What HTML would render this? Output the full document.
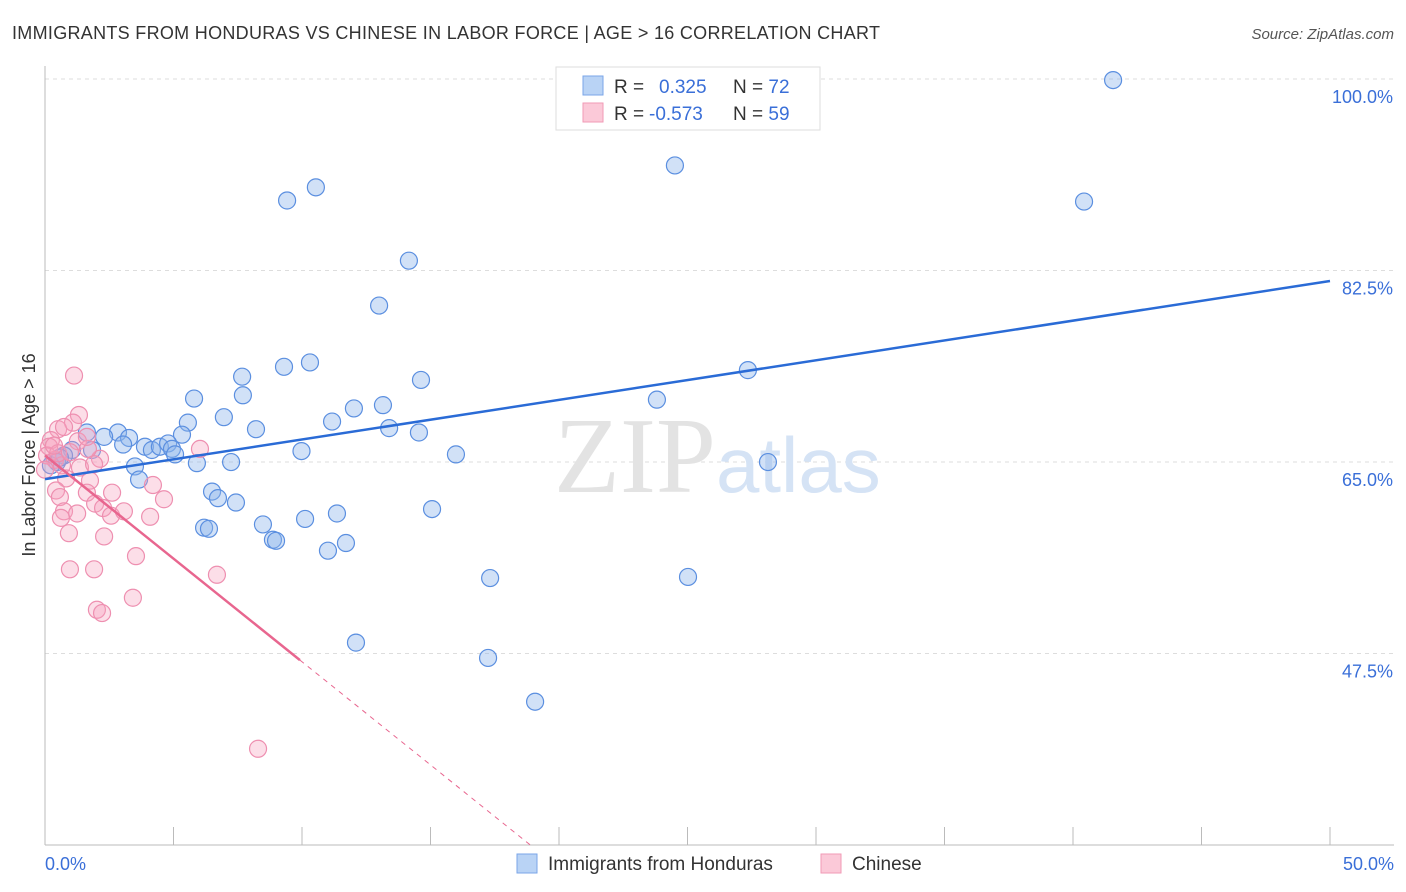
<!DOCTYPE html>
<html><head><meta charset="utf-8"><style>
body{margin:0;background:#fff;font-family:"Liberation Sans",sans-serif}
svg{display:block}
</style></head><body>
<svg id="c" width="1406" height="892" xmlns="http://www.w3.org/2000/svg">
<text x="12" y="39" font-size="18" fill="#333" textLength="868">IMMIGRANTS FROM HONDURAS VS CHINESE IN LABOR FORCE | AGE &gt; 16 CORRELATION CHART</text>
<text x="1394" y="39" font-size="15" fill="#555" font-style="italic" text-anchor="end">Source: ZipAtlas.com</text>
<text x="35" y="455" font-size="18" fill="#333" transform="rotate(-90 35 455)" text-anchor="middle">In Labor Force | Age &gt; 16</text>
<g id="grid"></g>
<text x="716" y="492" font-size="108" fill="#e3e3e3" font-family="Liberation Serif,serif" text-anchor="end">ZIP</text>
<text x="716" y="492" font-size="78" fill="#d5e3f5">atlas</text>
<g id="pts"></g>
<g id="lines"></g>
<g>
<rect x="556" y="67" width="264" height="63" fill="#fff" stroke="#ddd"/>
<rect x="583" y="76" width="20" height="19" fill="#b9d3f5" stroke="#7aa6e8"/>
<rect x="583" y="103" width="20" height="19" fill="#fbc9d8" stroke="#f09ab6"/>
<text x="614" y="93" font-size="19" fill="#333">R = </text><text x="659" y="93" font-size="19" fill="#3a6fd8">0.325</text>
<text x="733" y="93" font-size="19" fill="#333">N = <tspan fill="#3a6fd8">72</tspan></text>
<text x="614" y="120" font-size="19" fill="#333">R = </text><text x="649" y="120" font-size="19" fill="#3a6fd8">-0.573</text>
<text x="733" y="120" font-size="19" fill="#333">N = <tspan fill="#3a6fd8">59</tspan></text>
</g>
<g>
<rect x="517" y="854" width="20" height="19" fill="#b9d3f5" stroke="#7aa6e8"/>
<text x="548" y="870" font-size="19" fill="#333">Immigrants from Honduras</text>
<rect x="821" y="854" width="20" height="19" fill="#fbc9d8" stroke="#f09ab6"/>
<text x="852" y="870" font-size="19" fill="#333">Chinese</text>
</g>
</svg>
<script>
const yTicks=[100,82.5,65,47.5];
const yTickLabels=["100.0%","82.5%","65.0%","47.5%"];
const xEndLabels=["0.0%","50.0%"];
const blueX=[41.56,24.51,9.42,10.54,40.43,14.16,13.0,10.31,9.3,7.67,14.63,7.7,5.8,27.35,23.81,12.02,13.15,6.96,5.56,11.17,13.39,14.55,8.21,5.33,2.84,1.63,2.3,3.27,3.04,3.89,4.16,4.47,4.79,4.94,5.06,9.98,15.99,1.83,1.05,0.74,0.47,5.91,7.24,28.13,3.5,3.66,6.5,6.73,7.43,15.06,11.36,10.12,8.48,6.19,6.38,8.87,8.99,11.71,11.01,17.32,25.02,12.1,17.24,19.07,0.23,0.58];
const blueY=[99.9,92.1,88.9,90.1,88.8,83.4,79.3,74.1,73.7,72.8,72.5,71.1,70.8,73.4,70.7,69.9,70.2,69.1,68.6,68.7,68.1,67.7,68.0,67.5,67.7,67.7,67.3,67.2,66.6,66.4,66.1,66.4,66.7,66.2,65.7,66.0,65.7,66.1,66.1,65.6,65.0,64.9,65.0,65.0,64.6,63.4,62.3,61.7,61.3,60.7,60.3,59.8,59.3,59.0,58.9,57.9,57.8,57.6,56.9,54.4,54.5,48.5,47.1,43.1,64.7,65.4];
const pinkX=[1.13,1.32,1.09,0.51,0.74,6.03,2.14,1.28,0.23,0.16,0.08,0.39,0.66,1.36,1.91,0.82,1.75,2.61,1.63,0.43,4.2,4.63,0.58,1.95,2.26,0.74,1.25,2.57,3.07,4.09,0.62,0.93,2.3,3.54,0.97,1.91,6.69,3.42,2.02,2.22,8.29,1.67,0.51,0.35,0.97,1.63,0];
const pinkY=[72.9,69.3,68.6,68.0,68.2,66.2,65.3,66.9,67.0,66.4,65.6,65.2,64.7,64.5,64.8,63.5,63.3,62.2,62.2,62.4,62.9,61.6,61.8,61.2,60.8,60.5,60.3,60.1,60.5,60.0,59.9,58.5,58.2,56.4,55.2,55.2,54.7,52.6,51.5,51.2,38.8,66.2,65.8,66.5,65.9,67.3,64.3];
const blueTrend=[63.44,81.54];
const pinkTrend=[65.6,-1.885];
const X=v=>45+v*25.7, Y=v=>79+(100-v)*10.944;
const NS="http://www.w3.org/2000/svg";
function mk(t,a,p){const e=document.createElementNS(NS,t);for(const k in a)e.setAttribute(k,a[k]);p.appendChild(e);return e;}
const grid=document.getElementById('grid');
yTicks.forEach((v,i)=>{
 const l=mk('line',{x1:45,x2:1394,y1:Y(v),y2:Y(v),stroke:'#ddd','stroke-dasharray':'4,4'},grid);
 
 
 const t=mk('text',{x:1393,y:Y(v)+24,'font-size':18,fill:'#3a6fd8','text-anchor':'end'},grid);t.textContent=yTickLabels[i];
 
 
});
mk('line',{x1:45,x2:45,y1:66,y2:845,stroke:'#bbb'},grid);
mk('line',{x1:45,x2:1394,y1:845,y2:845,stroke:'#bbb'},grid);
for(let i=1;i<=10;i++){const l=mk('line',{x1:X(i*5),x2:X(i*5),y1:827,y2:845,stroke:'#bbb'},grid);
 
 }
[[0,'start',45],[50,'end',1394]].forEach((d,i)=>{const t=mk('text',{x:d[2],y:870,'font-size':18,fill:'#3a6fd8','text-anchor':d[1]},grid);t.textContent=xEndLabels[i];
 
 });
const pts=document.getElementById('pts');
blueX.forEach((x,i)=>{const c=mk('circle',{cx:X(x),cy:Y(blueY[i]),r:8.5,fill:'rgba(140,180,235,0.4)',stroke:'#5b8fe0','stroke-width':1.2},pts);
 
 });
pinkX.forEach((x,i)=>{const c=mk('circle',{cx:X(x),cy:Y(pinkY[i]),r:8.5,fill:'rgba(245,160,190,0.35)',stroke:'#ee8fb0','stroke-width':1.2},pts);
 
 });
const lines=document.getElementById('lines');
const bl=mk('line',{x1:X(0),y1:Y(blueTrend[0]),x2:X(50),y2:Y(blueTrend[1]),stroke:'#2a6bd6','stroke-width':2.5},lines);


const pe=9.92, pEnd=(pinkTrend[0]-30)/(-pinkTrend[1]);
const pl=mk('line',{x1:X(0),y1:Y(pinkTrend[0]),x2:X(pe),y2:Y(pinkTrend[0]+pinkTrend[1]*pe),stroke:'#e8668f','stroke-width':2.5},lines);


const pd=mk('line',{x1:X(pe),y1:Y(pinkTrend[0]+pinkTrend[1]*pe),x2:X(pEnd),y2:Y(30),stroke:'#e8668f','stroke-width':1,'stroke-dasharray':'5,5'},lines);


</script>
</body></html>
